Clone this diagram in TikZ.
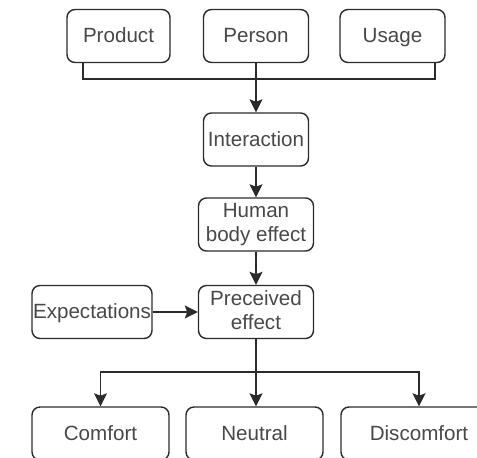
\documentclass[tikz,border=0pt]{standalone}
\usepackage{fontspec}
\setmainfont{Liberation Sans}
\usetikzlibrary{arrows.meta}
\definecolor{linegray}{HTML}{2B2B2B}
\definecolor{textgray}{HTML}{484848}
% strut that keeps the caps centred in the boxes
\def\boxstrut{\rule[-2.2pt]{0pt}{11.2pt}}

\begin{document}
\begin{tikzpicture}[x=0.5pt, y=-0.5pt,
  box/.style={draw=linegray, line width=0.7pt, rounded corners=4pt,
    minimum height=26.5pt, inner sep=0pt, align=center, text=textgray,
    font=\fontsize{10.3}{12}\selectfont,
    execute at begin node=\boxstrut, execute at end node=\boxstrut},
  arr/.style={-{Stealth[length=6.5pt, width=6.5pt, inset=1.2pt]}},
  conn/.style={draw=linegray, line width=0.7pt}]
% page size like the reference
\useasboundingbox (0,0) rectangle (477,457);
\begin{scope}
  \clip (0,0) rectangle (477,457);

  % top row
  \node[box, minimum width=51.5pt] (product) at (118.5,36) {Product};
  \node[box, minimum width=52.5pt] (person) at (256,36) {Person};
  \node[box, minimum width=52.5pt] (usage) at (392.5,36) {Usage};

  % middle column
  \node[box, minimum width=52.5pt] (interaction) at (256,139.5) {Interaction};
  \node[box, minimum width=57.5pt] (body) at (256,224.5) {Human\\body effect};
  \node[box, minimum width=57.5pt] (perceived) at (256,312) {Preceived\\effect};
  \node[box, minimum width=60pt] (expect) at (92,312) {Expectations};

  % bottom row, cut by the page
  \node[box, minimum width=68.5pt] (comfort) at (100.5,433.5) {Comfort};
  \node[box, minimum width=68.5pt] (neutral) at (254.5,433.5) {Neutral};
  \node[box, minimum width=78pt] (discomfort) at (419,433.5) {Discomfort};

  % joining line under the top row
  \coordinate (pjoin) at (83,79);
  \coordinate (ujoin) at (435,79);
  \draw[conn] (pjoin |- product.south) -- (pjoin) -- (ujoin)
    -- (ujoin |- usage.south);
  \draw[conn, arr] (person) -- (interaction);
  \draw[conn, arr] (interaction) -- (body);
  \draw[conn, arr] (body) -- (perceived);
  \draw[conn, arr] (expect) -- (perceived);

  % split to the three outcomes
  \coordinate (split) at (256,372);
  \draw[conn, arr] (perceived.south) -- (perceived.south |- neutral.north);
  \draw[conn, arr] (split) -| (comfort.north);
  \draw[conn, arr] (split) -| (discomfort.north);
\end{scope}
\end{tikzpicture}
\end{document}
